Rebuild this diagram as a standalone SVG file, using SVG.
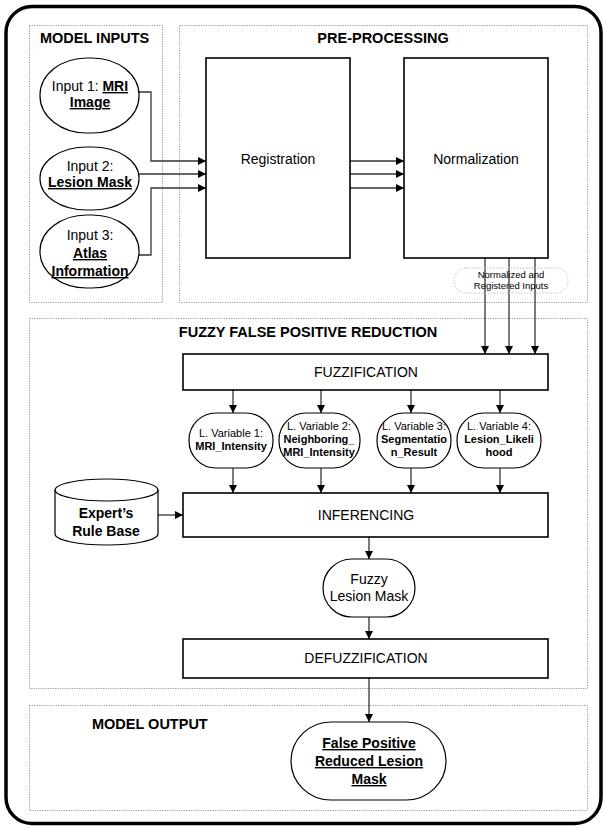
<svg xmlns="http://www.w3.org/2000/svg" width="604" height="829" viewBox="0 0 604 829">
  <defs>
    <marker id="arr" viewBox="0 0 10 10" refX="10" refY="5" markerWidth="8" markerHeight="8" markerUnits="userSpaceOnUse" orient="auto">
      <path d="M0,0 L10,5 L0,10 Z" fill="#000"/>
    </marker>
    <style>
      text { font-family: "Liberation Sans", Arial, sans-serif; fill: #000; }
      .zone { fill: none; stroke: #9a9a9a; stroke-width: 1; stroke-dasharray: 1.2 1.2; }
      .box { fill: #fff; stroke: #000; stroke-width: 1.6; }
      .node { fill: #fff; stroke: #000; stroke-width: 1.2; }
      .title { font-size: 14.5px; font-weight: bold; }
      .lbl { font-size: 14px; text-anchor: middle; }
      .b { font-weight: bold; }
      .u { font-weight: bold; text-decoration: underline; }
      .var { font-size: 11px; text-anchor: middle; }
      .edge { fill: none; stroke: #333; stroke-width: 1.3; marker-end: url(#arr); }
    </style>
  </defs>

  <rect x="0" y="0" width="604" height="829" fill="#fff"/>
  <!-- outer frame -->
  <rect x="6" y="6.5" width="595" height="817" rx="26" ry="26" fill="none" stroke="#000" stroke-width="3.5"/>

  <!-- zones -->
  <g id="zone-inputs">
    <rect class="zone" x="29.5" y="25.5" width="133" height="277"/>
    <text class="title" x="40" y="43">MODEL INPUTS</text>
  </g>
  <g id="zone-preprocessing">
    <rect class="zone" x="179.5" y="25.5" width="408" height="277"/>
    <text class="title" x="383" y="43" text-anchor="middle">PRE-PROCESSING</text>
  </g>
  <g id="zone-fuzzy">
    <rect class="zone" x="29.5" y="318.5" width="558" height="370"/>
    <text class="title" x="308" y="337" text-anchor="middle">FUZZY FALSE POSITIVE REDUCTION</text>
  </g>
  <g id="zone-output">
    <rect class="zone" x="29.5" y="705.5" width="558" height="105"/>
    <text class="title" x="92" y="729">MODEL OUTPUT</text>
  </g>

  <!-- connectors -->
  <g id="connectors">
    <path class="edge" d="M139,92 H151 V161 H206"/>
    <path class="edge" d="M139,174 H206"/>
    <path class="edge" d="M139,255 H151 V188 H206"/>
    <path class="edge" d="M350,161 H404"/>
    <path class="edge" d="M350,174 H404"/>
    <path class="edge" d="M350,188 H404"/>
    <path class="edge" d="M485,258 V354"/>
    <path class="edge" d="M509,258 V354"/>
    <path class="edge" d="M535,258 V354"/>
    <path class="edge" d="M233,390 V413"/>
    <path class="edge" d="M321,390 V413"/>
    <path class="edge" d="M411,390 V413"/>
    <path class="edge" d="M500,390 V413"/>
    <path class="edge" d="M233,468 V493"/>
    <path class="edge" d="M321,468 V493"/>
    <path class="edge" d="M411,468 V493"/>
    <path class="edge" d="M500,468 V493"/>
    <path class="edge" d="M158,515 H183"/>
    <path class="edge" d="M369,537 V559"/>
    <path class="edge" d="M369,617 V639"/>
    <path class="edge" d="M369,678 V722"/>
  </g>

  <!-- label on the three pre-processing outputs -->
  <g id="label-normalized">
    <rect x="454" y="268" width="114" height="25" rx="12" ry="12" fill="none" stroke="#b8c4d0" stroke-width="1" stroke-dasharray="1.5 1.5"/>
    <text x="511" y="278" font-size="9.5" text-anchor="middle" fill="#222">Normalized and</text>
    <text x="511" y="289" font-size="9.5" text-anchor="middle" fill="#222">Registered Inputs</text>
  </g>

  <!-- input nodes -->
  <g id="input1">
    <rect class="node" x="40" y="58" width="99" height="75" rx="47" ry="37"/>
    <text class="lbl" x="90" y="91">Input 1: <tspan class="u">MRI</tspan></text>
    <text class="lbl u" x="90" y="107">Image</text>
  </g>
  <g id="input2">
    <rect class="node" x="40" y="147" width="99" height="63" rx="47" ry="31"/>
    <text class="lbl" x="90" y="171">Input 2:</text>
    <text class="lbl u" x="90" y="187">Lesion Mask</text>
  </g>
  <g id="input3">
    <rect class="node" x="40" y="215" width="99" height="73" rx="47" ry="36"/>
    <text class="lbl" x="90" y="240">Input 3:</text>
    <text class="lbl u" x="90" y="258">Atlas</text>
    <text class="lbl u" x="90" y="276">Information</text>
  </g>

  <!-- pre-processing stages -->
  <g id="registration">
    <rect class="box" x="206" y="58" width="144" height="200"/>
    <text class="lbl" x="278" y="164">Registration</text>
  </g>
  <g id="normalization">
    <rect class="box" x="404" y="58" width="144" height="200"/>
    <text class="lbl" x="476" y="164">Normalization</text>
  </g>

  <!-- fuzzy stages -->
  <g id="fuzzification">
    <rect class="box" x="183" y="354" width="365" height="36"/>
    <text class="lbl" x="366" y="377">FUZZIFICATION</text>
  </g>
  <g id="var1">
    <rect class="node" x="189" y="413" width="84" height="55" rx="27" ry="27"/>
    <text class="var" x="231" y="437">L. Variable 1:</text>
    <text class="var b" x="231" y="450">MRI_Intensity</text>
  </g>
  <g id="var2">
    <rect class="node" x="279" y="413" width="81" height="55" rx="27" ry="27"/>
    <text class="var" x="319" y="430">L. Variable 2:</text>
    <text class="var b" x="319" y="443">Neighboring_</text>
    <text class="var b" x="319" y="456">MRI_Intensity</text>
  </g>
  <g id="var3">
    <rect class="node" x="377" y="413" width="74" height="55" rx="27" ry="27"/>
    <text class="var" x="414" y="430">L. Variable 3:</text>
    <text class="var b" x="414" y="443">Segmentatio</text>
    <text class="var b" x="414" y="456">n_Result</text>
  </g>
  <g id="var4">
    <rect class="node" x="457" y="413" width="84" height="55" rx="27" ry="27"/>
    <text class="var" x="499" y="430">L. Variable 4:</text>
    <text class="var b" x="499" y="443">Lesion_Likeli</text>
    <text class="var b" x="499" y="456">hood</text>
  </g>
  <g id="rulebase">
    <path class="node" d="M55,490 V534 A51.5,11 0 0 0 158,534 V490"/>
    <ellipse class="node" cx="106.5" cy="490" rx="51.5" ry="11"/>
    <text class="lbl b" x="106" y="518" font-size="15">Expert’s</text>
    <text class="lbl b" x="106" y="536" font-size="15">Rule Base</text>
  </g>
  <g id="inferencing">
    <rect class="box" x="183" y="493" width="365" height="44"/>
    <text class="lbl" x="366" y="520">INFERENCING</text>
  </g>
  <g id="fuzzy-mask">
    <rect class="node" x="323" y="559" width="92" height="58" rx="29" ry="29"/>
    <text class="lbl" x="369" y="584">Fuzzy</text>
    <text class="lbl" x="369" y="601">Lesion Mask</text>
  </g>
  <g id="defuzzification">
    <rect class="box" x="183" y="639" width="365" height="39"/>
    <text class="lbl" x="366" y="663">DEFUZZIFICATION</text>
  </g>

  <!-- output -->
  <g id="output">
    <rect class="node" x="291" y="722" width="155" height="78" rx="40" ry="39"/>
    <text class="lbl u" x="369" y="748">False Positive</text>
    <text class="lbl u" x="369" y="766">Reduced Lesion</text>
    <text class="lbl u" x="369" y="784">Mask</text>
  </g>
</svg>
